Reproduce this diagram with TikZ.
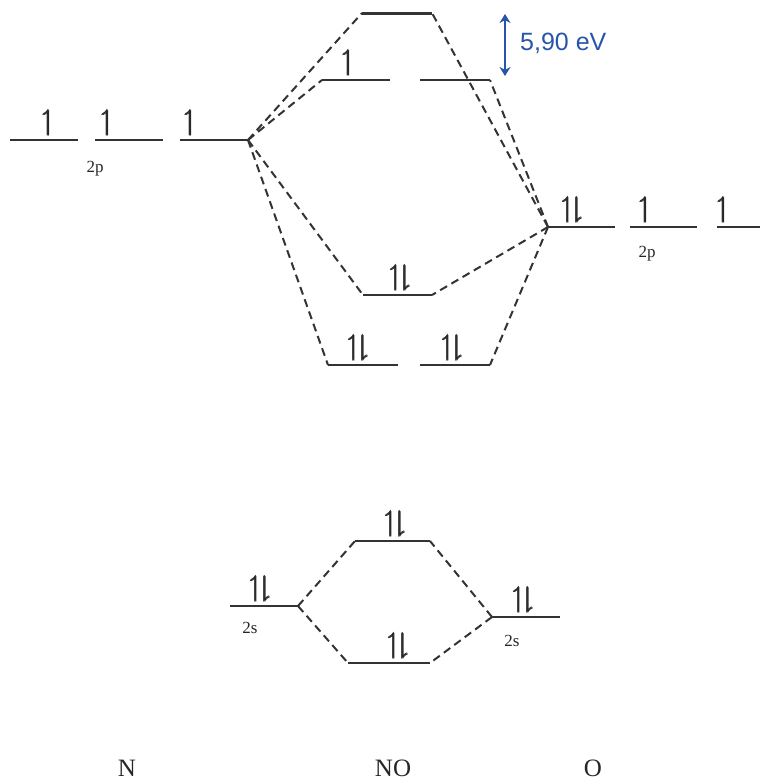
\documentclass[tikz,border=0pt]{standalone}
\usepackage{amsmath,amssymb}
\usepackage{bm}
\usepackage{fontspec}
\setmainfont{Liberation Serif}
\newfontfamily\evfont{Liberation Sans}
\usepackage{tikz}
\usetikzlibrary{arrows.meta,positioning,calc}
\definecolor{evblue}{RGB}{40,85,170}
\newcommand{\eup}{$\bm{\upharpoonleft}$}
\newcommand{\epair}{$\bm{\upharpoonleft}\!\bm{\downharpoonright}$}

\begin{document}
\begin{tikzpicture}[x=1pt,y=-1pt,
	level/.style={line width=2.2pt, black!80},
	link/.style={line width=2pt, black!80, dash pattern=on 8pt off 5pt},
	elec/.style={inner sep=0pt, anchor=south, black!85, font=\fontsize{29}{29}\selectfont},
	orb/.style={inner sep=0pt, black!85, font=\fontsize{17}{17}\selectfont},
	atom/.style={inner sep=0pt, black!85, font=\fontsize{25}{25}\selectfont}]
	\useasboundingbox (0,0) rectangle (772,782);
	% N 2p and O 2p
	\foreach \a/\b/\n in {10/78/1,95/163/2,180/248/3} {
		\coordinate (nl\n) at (\a,140); \coordinate (nr\n) at (\b,140);
		\draw[level] (nl\n) -- (nr\n);
	}
	\foreach \a/\b/\n in {548/615/1,630/697/2,717/760/3} {
		\coordinate (ol\n) at (\a,227); \coordinate (or\n) at (\b,227);
		\draw[level] (ol\n) -- (or\n);
	}
	\node[orb] (np) at (95,169) {2p};
	\node[orb] (op) at (647,254) {2p};
	% NO levels from 2p
	\coordinate (s2L) at (362,13); \coordinate (s2R) at (432,13);
	\coordinate (p2L) at (322,80); \coordinate (p2M) at (390,80);
	\coordinate (p2N) at (420,80); \coordinate (p2R) at (490,80);
	\coordinate (sbL) at (363,295); \coordinate (sbR) at (432,295);
	\coordinate (pbL) at (328,365); \coordinate (pbM) at (398,365);
	\coordinate (pbN) at (420,365); \coordinate (pbR) at (490,365);
	\draw[level, line width=3pt] (s2L) -- (s2R);
	\draw[level] (p2L) -- (p2M) (p2N) -- (p2R);
	\draw[level] (sbL) -- (sbR);
	\draw[level] (pbL) -- (pbM) (pbN) -- (pbR);
	\foreach \t in {s2L,p2L,sbL,pbL} \draw[link] (nr3) -- (\t);
	\foreach \t in {s2R,p2R,sbR,pbR} \draw[link] (ol1) -- (\t);
	% 2s
	\coordinate (n2sL) at (230,606); \coordinate (n2sR) at (298,606);
	\coordinate (o2sL) at (492,617); \coordinate (o2sR) at (560,617);
	\coordinate (ssL) at (355,541); \coordinate (ssR) at (430,541);
	\coordinate (sL) at (348,663); \coordinate (sR) at (430,663);
	\draw[level] (n2sL) -- (n2sR) (o2sL) -- (o2sR) (ssL) -- (ssR) (sL) -- (sR);
	\draw[link] (n2sR) -- (ssL) (n2sR) -- (sL);
	\draw[link] (o2sL) -- (ssR) (o2sL) -- (sR);
	\node[orb] (ns) at (250,628) {2s};
	\node[orb] (os) at (512,641) {2s};
	% electrons
	\foreach \x/\n in {48/1,107/2,190/3} \node[elec] (ne\n) at (\x,136) {\eup};
	\node[elec] (oe1) at (572,223) {\epair};
	\node[elec] (oe2) at (645,223) {\eup};
	\node[elec] (oe3) at (723,223) {\eup};
	\node[elec] (pse) at (348,76) {\eup};
	\node[elec] (sbe) at (400,291) {\epair};
	\node[elec] (pbe1) at (358,361) {\epair};
	\node[elec] (pbe2) at (452,361) {\epair};
	\node[elec] (nse) at (260,602) {\epair};
	\node[elec] (ose) at (523,613) {\epair};
	\node[elec] (sse) at (395,537) {\epair};
	\node[elec] (se) at (398,659) {\epair};
	% gap
	\coordinate (gt) at (505,14); \coordinate (gb) at (505,76);
	\draw[evblue, line width=2.4pt, {Stealth[length=9pt,width=11pt]}-{Stealth[length=9pt,width=11pt]}] (gt) -- (gb);
	\node[evblue, inner sep=0pt, anchor=west, font=\evfont\fontsize{25}{25}\selectfont] (gap) at (520,43) {5,90 eV};
	% atoms
	\node[atom] (N) at (127,768) {N};
	\node[atom] (NO) at (393,768) {NO};
	\node[atom] (O) at (593,768) {O};
\end{tikzpicture}
\end{document}
